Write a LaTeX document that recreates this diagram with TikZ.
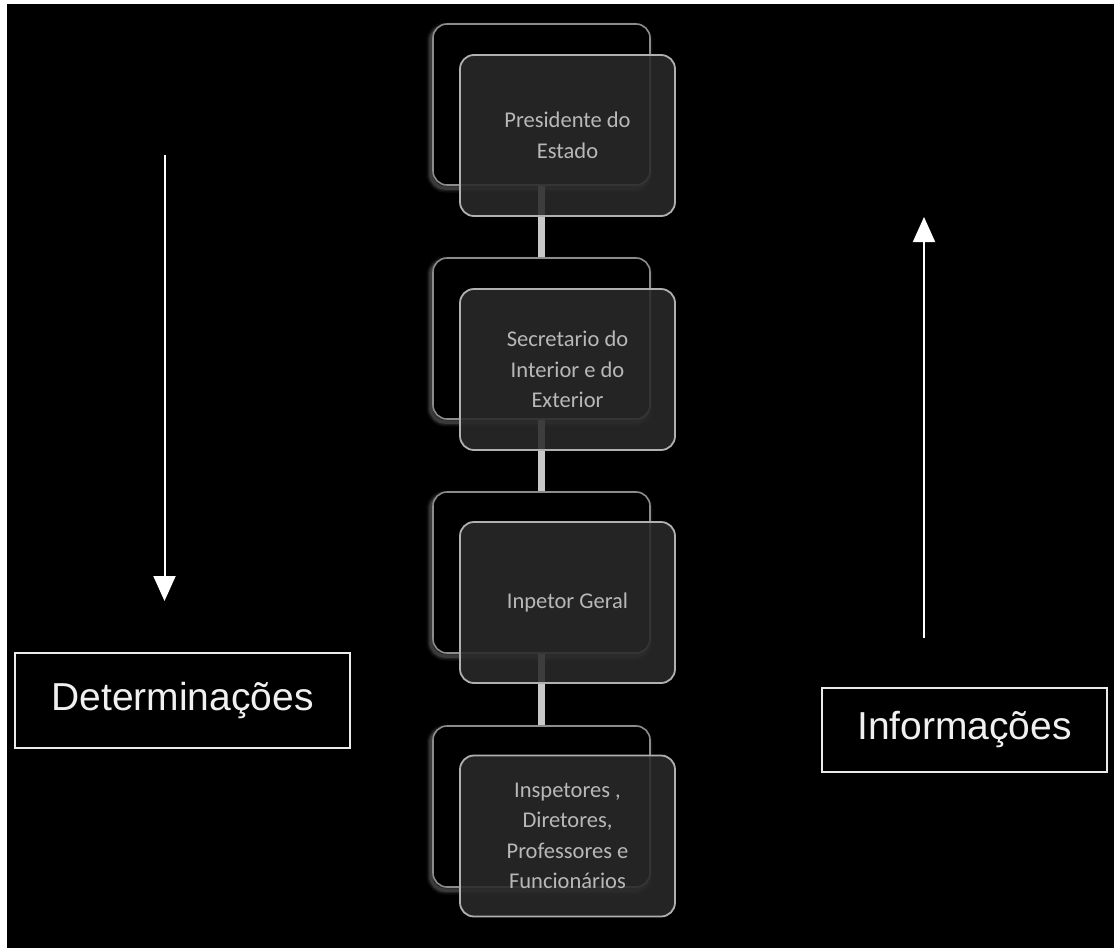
\documentclass[tikz,border=0pt]{standalone}
\usepackage{fontspec}
\setmainfont{Liberation Sans}
\newfontfamily\boxfont{Carlito}
\usetikzlibrary{arrows.meta}
\definecolor{frontfill}{HTML}{2A2A2A}
\definecolor{frontline}{HTML}{B0B0B0}
\definecolor{backline}{HTML}{8C8C8C}
\definecolor{boxtext}{HTML}{B8B8B8}
\definecolor{barcol}{HTML}{C8C8C8}
\tikzset{
  backbox/.style={draw=backline, line width=1.6pt, fill=black, rounded corners=14pt,
    minimum width=217pt, minimum height=161pt, inner sep=0pt},
  glow/.style={draw=white, rounded corners=14pt, fill=none},
  frontbox/.style={draw=frontline, line width=1.8pt, fill=frontfill, fill opacity=0.88,
    text opacity=1, rounded corners=14pt, minimum width=215pt, minimum height=161pt,
    inner sep=0pt, align=center, text=boxtext,
    font=\boxfont\fontsize{22.5}{30.5}\selectfont},
  bar/.style={draw=barcol, line width=7pt},
  labelbox/.style={draw=white!92!black, line width=1.8pt, fill=black, text=white!94!black,
    inner sep=0pt, font=\fontsize{39}{44}\selectfont},
  flow/.style={draw=white, line width=2pt, -{Triangle[width=22pt,length=25pt]}}
}
\begin{document}
\begin{tikzpicture}[x=1pt,y=-1pt]
\useasboundingbox (0,0) rectangle (1114,948);
\fill[white] (0,0) rectangle (1114,948);
\fill[black] (7,4) rectangle (1114,948);
% back boxes with soft glow
\foreach \y in {104.5,338.5,572.5,806.5}{
  \foreach \w/\o in {9/0.05,6/0.08,3.5/0.12}{
    \draw[glow, line width=\w pt, opacity=\o] (431,\y+3-80.5) rectangle ++(217,161);
  }
}
\node[backbox] (back1) at (541.5,104.5) {};
\node[backbox] (back2) at (541.5,338.5) {};
\node[backbox] (back3) at (541.5,572.5) {};
\node[backbox] (back4) at (541.5,806.5) {};
% connectors
\draw[bar] (back1.south) -- (back2.north);
\draw[bar] (back2.south) -- (back3.north);
\draw[bar] (back3.south) -- (back4.north);
% front boxes
\node[frontbox] (front1) at (567.5,135.5) {Presidente do\\Estado};
\node[frontbox] (front2) at (567.5,369.5) {Secretario do\\Interior e do\\Exterior};
\node[frontbox] (front3) at (567.5,602.5) {Inpetor Geral};
\node[frontbox] (front4) at (567.5,836) {Inspetores ,\\Diretores,\\Professores e\\Funcionários};
% side labels
\node[labelbox, minimum width=335pt, minimum height=95pt] (det) at (182.5,700.5) {Determinações};
\node[labelbox, minimum width=285pt, minimum height=84pt] (inf) at (964.5,730) {Informações};
\coordinate (dtop) at (164.5,155);
\coordinate (dtip) at (164.5,601);
\coordinate (ibot) at (924,638);
\coordinate (itip) at (924,217);
\draw[flow] (dtop) -- (dtip);
\draw[flow] (ibot) -- (itip);
\end{tikzpicture}
\end{document}
